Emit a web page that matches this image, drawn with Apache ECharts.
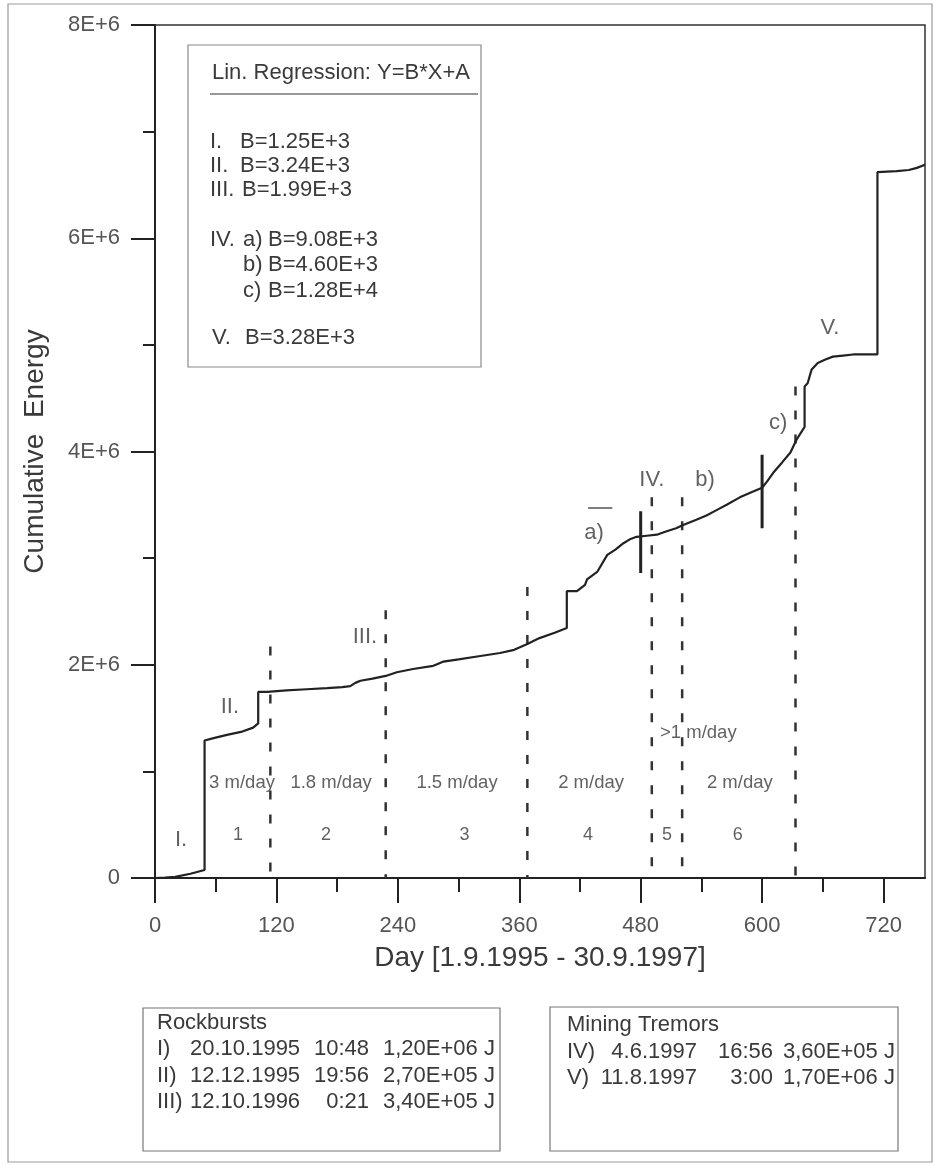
<!DOCTYPE html>
<html>
<head>
<meta charset="utf-8">
<title>Cumulative Energy 1995-1997</title>
<script src="https://cdn.jsdelivr.net/npm/echarts@6/dist/echarts.min.js"></script>
<style>
  html, body { margin: 0; padding: 0; background: #fff; }
  #chart { width: 935px; height: 1166px; }
</style>
</head>
<body>
<div id="chart"></div>
<script>
// Cumulative seismic energy [J] per day, 1.9.1995 - 30.9.1997
const curveDays = [0, 10, 20, 35, 49, 49, 57, 70, 85, 97, 102, 102, 111, 130, 150, 170, 185, 193, 198, 203,
  215, 228, 239, 255, 275, 280, 285, 300, 320, 341, 355, 368, 380, 395, 407, 407, 417, 425, 427, 437,
  447, 455, 463, 470, 476, 486, 496, 505, 515, 522, 535, 545, 555, 565, 578, 590, 600, 605, 611, 620,
  628, 634, 640, 642, 642, 645, 649, 655, 662, 670, 680, 690, 700, 714, 714, 733, 745, 753, 761];
const cumulativeEnergy = [0, 0.003e6, 0.01e6, 0.04e6, 0.075e6, 1.29e6, 1.31e6, 1.34e6, 1.37e6, 1.41e6,
  1.45e6, 1.745e6, 1.745e6, 1.76e6, 1.77e6, 1.78e6, 1.79e6, 1.80e6, 1.83e6, 1.85e6,
  1.87e6, 1.895e6, 1.93e6, 1.96e6, 1.99e6, 2.01e6, 2.03e6, 2.05e6, 2.08e6, 2.11e6,
  2.14e6, 2.195e6, 2.25e6, 2.30e6, 2.345e6, 2.69e6, 2.69e6, 2.75e6, 2.80e6, 2.87e6,
  3.03e6, 3.08e6, 3.14e6, 3.18e6, 3.20e6, 3.21e6, 3.22e6, 3.25e6, 3.28e6, 3.31e6,
  3.36e6, 3.40e6, 3.45e6, 3.50e6, 3.57e6, 3.62e6, 3.66e6, 3.72e6, 3.80e6, 3.90e6,
  3.99e6, 4.11e6, 4.20e6, 4.23e6, 4.61e6, 4.64e6, 4.77e6, 4.83e6, 4.86e6, 4.89e6,
  4.90e6, 4.91e6, 4.91e6, 4.91e6, 6.62e6, 6.63e6, 6.64e6, 6.66e6, 6.69e6];

// Mining phase boundaries (dashed) and the energy level where each dashed line starts
const phaseBoundaryDays = [114, 228, 368, 491, 521, 633];
const phaseBoundaryTops = [2.17e6, 2.51e6, 2.73e6, 3.57e6, 3.57e6, 4.61e6];

// Breaks between regression sections a) / b) / c)
const breakDays = [480, 600];
const breakLow = [2.86e6, 3.28e6];
const breakHigh = [3.44e6, 3.97e6];

// Axis ticks
const xMajorTicks = [0, 120, 240, 360, 480, 600, 720];
const xMinorTicks = [60, 180, 300, 420, 540, 660];
const yTickLabels = ['0', '2E+6', '4E+6', '6E+6', '8E+6'];

// Phase numbers and face advance rates
const phaseNumbers = ['1', '2', '3', '4', '5', '6'];
const phaseNumberDays = [82, 169, 306, 428, 506, 576];
const phaseNumberLevel = 0.40e6;
const advanceRates = ['3 m/day', '1.8 m/day', '1.5 m/day', '2 m/day', '>1 m/day', '2 m/day'];
const advanceRateDays = [86, 174, 298.5, 431, 537, 578];
const advanceRateLevels = [0.89e6, 0.89e6, 0.89e6, 0.89e6, 1.36e6, 0.89e6];

// Event and section labels on the curve
const eventLabels = ['I.', 'II.', 'III.', 'IV.', 'V.', 'a)', 'b)', 'c)'];
const eventLabelDays = [25.7, 74, 207.5, 491, 667, 434, 543.6, 616];
const eventLabelLevels = [0.356e6, 1.60e6, 2.26e6, 3.73e6, 5.16e6, 3.24e6, 3.73e6, 4.27e6];
const sectionBarDays = [428, 452];
const sectionBarLevel = 3.47e6;

// Linear regression slopes  Y = B*X + A
const regressionPhase = ['I.', 'II.', 'III.', 'IV.', '', '', 'V.'];
const regressionSection = ['', '', '', 'a)', 'b)', 'c)', ''];
const regressionSlope = [1.25e3, 3.24e3, 1.99e3, 9.08e3, 4.60e3, 1.28e4, 3.28e3];

// Rockbursts and mining tremors
const rockburstIds = ['I)', 'II)', 'III)'];
const rockburstDates = ['20.10.1995', '12.12.1995', '12.10.1996'];
const rockburstTimes = ['10:48', '19:56', '0:21'];
const rockburstEnergy = [1.20e6, 2.70e5, 3.40e5];
const tremorIds = ['IV)', 'V)'];
const tremorDates = ['4.6.1997', '11.8.1997'];
const tremorTimes = ['16:56', '3:00'];
const tremorEnergy = [3.60e5, 1.70e6];

const FONT = '"Liberation Sans", Arial, sans-serif';
const INK = '#222';
const TEXT = '#3a3a3a';

function joules(v) {
  const parts = v.toExponential(2).split('e');
  const ex = parseInt(parts[1], 10);
  return parts[0].replace('.', ',') + 'E' + (ex < 0 ? '-' : '+') + String(Math.abs(ex)).padStart(2, '0') + ' J';
}
function slopeText(v) {
  return 'B=' + v.toExponential(2).toUpperCase();
}

const curve = curveDays.map((d, i) => [d, cumulativeEnergy[i]]);

const series = [{
  type: 'line',
  data: curve,
  symbol: 'none',
  lineStyle: { color: INK, width: 2.2 },
  z: 5,
  silent: true
}];

phaseBoundaryDays.forEach((d, i) => {
  series.push({
    type: 'line',
    data: [[d, phaseBoundaryTops[i]], [d, 0]],
    symbol: 'none',
    lineStyle: { color: '#333', width: 2.5, type: [9, 15] },
    z: 3,
    silent: true
  });
});

breakDays.forEach((d, i) => {
  series.push({
    type: 'line',
    data: [[d, breakLow[i]], [d, breakHigh[i]]],
    symbol: 'none',
    lineStyle: { color: INK, width: 3 },
    z: 6,
    silent: true
  });
});

series.push({
  type: 'line',
  data: sectionBarDays.map(d => [d, sectionBarLevel]),
  symbol: 'none',
  lineStyle: { color: '#555', width: 1.5 },
  z: 4,
  silent: true
});

function labelSeries(texts, days, levels, fontSize) {
  return {
    type: 'scatter',
    data: texts.map((t, i) => ({ name: t, value: [days[i], Array.isArray(levels) ? levels[i] : levels] })),
    symbolSize: 1,
    itemStyle: { color: 'rgba(0,0,0,0)' },
    label: {
      show: true, position: 'inside', formatter: '{b}',
      fontFamily: FONT, fontSize: fontSize, color: TEXT
    },
    z: 7,
    silent: true
  };
}
series.push(labelSeries(phaseNumbers, phaseNumberDays, phaseNumberLevel, 18));
series.push(labelSeries(advanceRates, advanceRateDays, advanceRateLevels, 18.5));
series.push(labelSeries(eventLabels, eventLabelDays, eventLabelLevels, 22));

// Boxes: regression legend, rockbursts, mining tremors, outer frame
const graphics = [];
graphics.push({
  type: 'rect', shape: { x: 8, y: 4, width: 924, height: 1158 },
  style: { fill: 'none', stroke: '#9a9a9a', lineWidth: 1.2 }, silent: true
});

function txt(x, y, text, size, align) {
  return {
    type: 'text', x: x, y: y, silent: true,
    style: { text: text, fontFamily: FONT, fontSize: size, fill: TEXT, align: align || 'left', verticalAlign: 'middle' }
  };
}

graphics.push({
  type: 'rect', shape: { x: 188, y: 45, width: 293, height: 322 },
  style: { fill: '#fff', stroke: '#8a8a8a', lineWidth: 1.2 }, silent: true
});
graphics.push(txt(212, 73, 'Lin. Regression: Y=B*X+A', 22));
graphics.push({
  type: 'line', shape: { x1: 210, y1: 94, x2: 478, y2: 94 },
  style: { stroke: '#777', lineWidth: 1.5 }, silent: true
});
const regRowY = [142, 166, 190, 240, 265, 291, 338];
regressionPhase.forEach((p, i) => {
  if (p) graphics.push(txt(i === 6 ? 212 : 210, regRowY[i], p, 22));
  const sec = regressionSection[i];
  if (sec) graphics.push(txt(243, regRowY[i], sec, 22));
  const bx = sec ? 268 : (i === 6 ? 245 : (i === 2 ? 242 : 240));
  graphics.push(txt(bx, regRowY[i], slopeText(regressionSlope[i]), 22));
});

graphics.push({
  type: 'rect', shape: { x: 143, y: 1008, width: 357, height: 143 },
  style: { fill: '#fff', stroke: '#777', lineWidth: 1.2 }, silent: true
});
graphics.push(txt(157, 1023, 'Rockbursts', 22));
rockburstIds.forEach((id, i) => {
  const y = 1049 + i * 26.5;
  graphics.push(txt(157, y, id, 22));
  graphics.push(txt(190, y, rockburstDates[i], 22));
  graphics.push(txt(369, y, rockburstTimes[i], 22, 'right'));
  graphics.push(txt(383, y, joules(rockburstEnergy[i]), 22));
});

graphics.push({
  type: 'rect', shape: { x: 550, y: 1007, width: 348, height: 144 },
  style: { fill: '#fff', stroke: '#777', lineWidth: 1.2 }, silent: true
});
graphics.push(txt(567, 1025, 'Mining Tremors', 22));
tremorIds.forEach((id, i) => {
  const y = 1052 + i * 26;
  graphics.push(txt(567, y, id, 22));
  graphics.push(txt(697, y, tremorDates[i], 22, 'right'));
  graphics.push(txt(773, y, tremorTimes[i], 22, 'right'));
  graphics.push(txt(783, y, joules(tremorEnergy[i]), 22));
});

const option = {
  animation: false,
  backgroundColor: '#fff',
  grid: {
    left: 155, right: 10, top: 25, bottom: 288,
    show: true, borderColor: '#333', borderWidth: 1.5
  },
  xAxis: [{
    type: 'value', min: 0, max: 761,
    name: 'Day [1.9.1995 - 30.9.1997]',
    nameLocation: 'middle', nameGap: 66,
    nameTextStyle: { fontFamily: FONT, fontSize: 28, color: TEXT },
    axisLine: { show: true, lineStyle: { color: INK, width: 2 } },
    axisTick: { show: true, inside: false, length: 25, customValues: xMajorTicks, lineStyle: { color: INK, width: 2 } },
    axisLabel: { show: true, customValues: xMajorTicks, margin: 37, fontFamily: FONT, fontSize: 22, color: '#555' },
    splitLine: { show: false }
  }, {
    type: 'value', min: 0, max: 761, position: 'bottom',
    axisLine: { show: false },
    axisTick: { show: true, inside: false, length: 14, customValues: xMinorTicks, lineStyle: { color: INK, width: 2 } },
    axisLabel: { show: false },
    splitLine: { show: false }
  }],
  yAxis: {
    type: 'value', min: 0, max: 8e6, interval: 2e6,
    name: 'Cumulative  Energy',
    nameLocation: 'middle', nameGap: 106,
    nameTextStyle: { fontFamily: FONT, fontSize: 28, color: TEXT },
    axisLine: { show: true, lineStyle: { color: INK, width: 2 } },
    axisTick: { show: true, inside: false, length: 24, lineStyle: { color: INK, width: 2 } },
    minorTick: { show: true, splitNumber: 2, length: 12, lineStyle: { color: INK, width: 2 } },
    axisLabel: {
      margin: 35, fontFamily: FONT, fontSize: 22, color: '#555',
      formatter: v => yTickLabels[Math.round(v / 2e6)]
    },
    splitLine: { show: false },
    minorSplitLine: { show: false }
  },
  series: series,
  graphic: graphics
};

const chart = echarts.init(document.getElementById('chart'));
chart.setOption(option);
</script>
</body>
</html>
